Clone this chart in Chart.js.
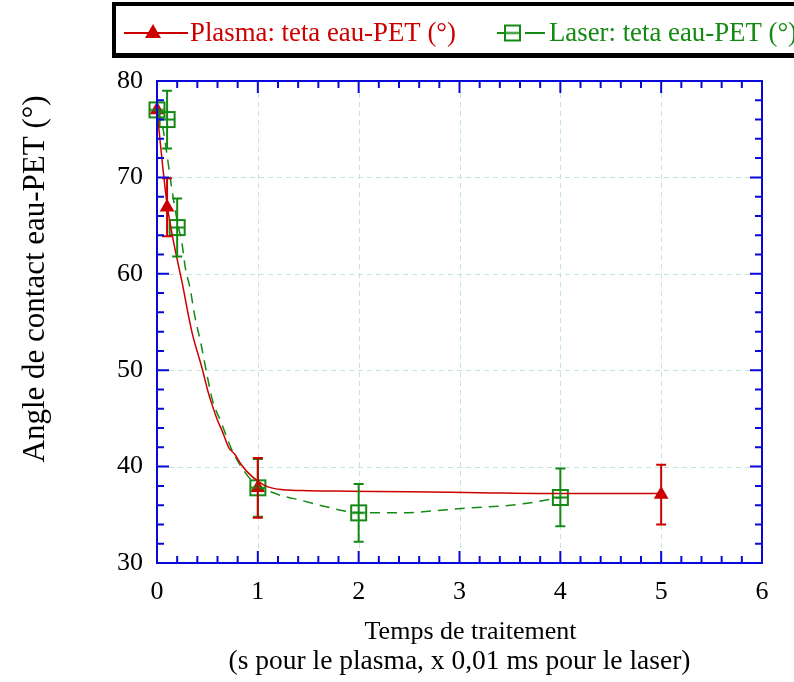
<!DOCTYPE html>
<html>
<head>
<meta charset="utf-8">
<script src="https://cdn.jsdelivr.net/npm/chart.js@4.4.1/dist/chart.umd.min.js"></script>
<style>
  html, body { margin: 0; padding: 0; background: #fff; }
  #chart { display: block; }
</style>
</head>
<body>
<canvas id="chart" width="794" height="682"></canvas>
<script>
// ---- data ----
const plasmaX   = [0, 0.1, 1, 5];
const plasmaY   = [77, 66.9, 37.8, 37.1];
const plasmaErr = [0, 3, 3.1, 3.1];

const laserX   = [0, 0.1, 0.2, 1, 2, 4];
const laserY   = [77, 76, 64.8, 37.8, 35.2, 36.8];
const laserErr = [0, 3, 3, 3, 3, 3];

// fitted curves (traced)
const plasmaFitX = [0, 0.05, 0.1, 0.15, 0.2, 0.255, 0.3, 0.35, 0.4, 0.45, 0.5, 0.55, 0.6, 0.65, 0.71, 0.77, 0.83, 0.9, 1, 1.1, 1.25, 1.5, 1.9, 2.5, 3.2, 4, 5];
const plasmaFitY = [77, 71.8, 67.2, 64.1, 61.5, 58.8, 56.3, 53.8, 51.9, 50.1, 48, 46.3, 44.8, 43.6, 42, 41.3, 40.3, 39.4, 38.5, 37.9, 37.6, 37.5, 37.45, 37.4, 37.3, 37.2, 37.2];

const laserFitX = [0, 0.03, 0.06, 0.1, 0.14, 0.2, 0.25, 0.28, 0.33, 0.375, 0.435, 0.485, 0.55, 0.64, 0.74, 0.88, 1, 1.1, 1.23, 1.43, 1.69, 1.92, 2.2, 2.42, 2.74, 3.08, 3.4, 3.6, 3.9, 4];
const laserFitY = [77, 76, 75, 72.3, 69.3, 65.5, 63, 60.7, 58.4, 55.6, 52.8, 50.1, 46.9, 44.5, 41.8, 39.3, 38, 37.5, 37, 36.5, 35.8, 35.3, 35.2, 35.2, 35.4, 35.7, 35.9, 36.1, 36.6, 36.8];

const xTicks = [0, 1, 2, 3, 4, 5, 6];
const yTicks = [30, 40, 50, 60, 70, 80];

const RED = '#cc0000';
const GREEN = '#138a13';
const BLUE = '#0808d8';
const GRID = '#bfe8db';
const SERIF = "'Liberation Serif', 'Times New Roman', serif";

// open square with a line across the middle (laser marker)
function squareMarker(side) {
    const c = document.createElement('canvas');
    c.width = side + 4; c.height = side + 4;
    const g = c.getContext('2d');
    g.strokeStyle = GREEN; g.lineWidth = 2;
    g.strokeRect(2, 2, side, side);
    g.beginPath();
    g.moveTo(2, 2 + side / 2); g.lineTo(2 + side, 2 + side / 2);
    g.stroke();
    return c;
}
const laserMarker = squareMarker(15);

const toXY = (xs, ys) => xs.map((v, i) => ({ x: v, y: ys[i] }));

// error bars from the dataset's err array
const errorBars = {
    id: 'errorBars',
    afterDatasetsDraw(chart) {
        const { ctx, scales: { x, y } } = chart;
        chart.data.datasets.forEach(ds => {
            if (!ds.err) return;
            ctx.save();
            ctx.strokeStyle = ds.borderColor;
            ctx.lineWidth = 2;
            ds.data.forEach((p, i) => {
                const e = ds.err[i];
                if (!e) return;
                const px = x.getPixelForValue(p.x);
                const top = y.getPixelForValue(p.y + e);
                const bot = y.getPixelForValue(p.y - e);
                ctx.beginPath();
                ctx.moveTo(px, top); ctx.lineTo(px, bot);
                ctx.moveTo(px - 5, top); ctx.lineTo(px + 5, top);
                ctx.moveTo(px - 5, bot); ctx.lineTo(px + 5, bot);
                ctx.stroke();
            });
            ctx.restore();
        });
    }
};

// grid, frame and inward ticks
const frame = {
    id: 'frame',
    beforeDatasetsDraw(chart) {
        const { ctx, chartArea: a, scales: { x, y } } = chart;
        ctx.save();
        ctx.strokeStyle = GRID;
        ctx.lineWidth = 1;
        ctx.setLineDash([5, 4]);
        xTicks.slice(1, -1).forEach(v => {
            const px = Math.round(x.getPixelForValue(v)) + 0.5;
            ctx.beginPath(); ctx.moveTo(px, a.top + 12); ctx.lineTo(px, a.bottom - 12); ctx.stroke();
        });
        yTicks.slice(1, -1).forEach(v => {
            const py = Math.round(y.getPixelForValue(v)) + 0.5;
            ctx.beginPath(); ctx.moveTo(a.left + 12, py); ctx.lineTo(a.right - 12, py); ctx.stroke();
        });
        ctx.restore();
    },
    afterDraw(chart) {
        const { ctx, chartArea: a, scales: { x, y } } = chart;
        ctx.save();
        ctx.strokeStyle = BLUE;
        ctx.lineWidth = 2;
        ctx.beginPath();
        for (let k = 0; k <= 30; k++) {
            const len = k % 5 === 0 ? 12 : 7;
            const px = x.getPixelForValue(k * 0.2);
            ctx.moveTo(px, a.bottom); ctx.lineTo(px, a.bottom - len);
            ctx.moveTo(px, a.top); ctx.lineTo(px, a.top + len);
        }
        for (let k = 0; k <= 25; k++) {
            const len = k % 5 === 0 ? 12 : 7;
            const py = y.getPixelForValue(30 + k * 2);
            ctx.moveTo(a.left, py); ctx.lineTo(a.left + len, py);
            ctx.moveTo(a.right, py); ctx.lineTo(a.right - len, py);
        }
        ctx.stroke();
        ctx.strokeRect(a.left, a.top, a.right - a.left, a.bottom - a.top);

        // axis titles
        ctx.fillStyle = '#000';
        ctx.font = '26px ' + SERIF;
        ctx.textAlign = 'center';
        ctx.textBaseline = 'middle';
        const cx = (a.left + a.right) / 2;
        ctx.fillText('Temps de traitement', cx + 11, 632);
        ctx.font = '27.5px ' + SERIF;
        ctx.fillText('(s pour le plasma, x 0,01 ms pour le laser)', cx, 662);
        ctx.font = '31px ' + SERIF;
        ctx.translate(36, 279);
        ctx.rotate(-Math.PI / 2);
        ctx.fillText('Angle de contact eau-PET (°)', 0, 0);
        ctx.restore();

        drawLegend(chart);
    }
};

// boxed legend across the top (runs off the right edge)
function drawLegend(chart) {
    const ctx = chart.ctx;
    const sets = chart.data.datasets;
    const plasma = sets.find(d => d.err && d.borderColor === RED);
    const laser = sets.find(d => d.err && d.borderColor === GREEN);
    ctx.save();
    // box with a small drop shadow
    ctx.fillStyle = '#000';
    ctx.fillRect(112, 2, 700, 56);
    ctx.fillStyle = '#fff';
    ctx.fillRect(116, 6, 700, 47);

    const cy = 33;
    // plasma sample
    ctx.strokeStyle = RED; ctx.lineWidth = 2;
    ctx.beginPath(); ctx.moveTo(124, cy); ctx.lineTo(188, cy); ctx.stroke();
    ctx.fillStyle = RED;
    ctx.beginPath();
    ctx.moveTo(153, cy - 9); ctx.lineTo(161, cy + 5); ctx.lineTo(145, cy + 5); ctx.closePath(); ctx.fill();
    // laser sample
    ctx.strokeStyle = GREEN;
    ctx.beginPath(); ctx.moveTo(497, cy); ctx.lineTo(505, cy); ctx.moveTo(525, cy); ctx.lineTo(545, cy); ctx.stroke();
    ctx.drawImage(laserMarker, 503, cy - 9.5);

    ctx.font = '26.8px ' + SERIF;
    ctx.textAlign = 'left';
    ctx.textBaseline = 'middle';
    ctx.fillStyle = RED;
    ctx.fillText(plasma.label, 190, cy + 1);
    ctx.fillStyle = GREEN;
    ctx.fillText(laser.label, 549, cy + 1);
    ctx.restore();
}

new Chart(document.getElementById('chart'), {
    type: 'scatter',
    data: {
        datasets: [
            {
                label: 'plasma fit',
                data: toXY(plasmaFitX, plasmaFitY),
                showLine: true,
                borderColor: RED,
                borderWidth: 1.5,
                pointRadius: 0,
                cubicInterpolationMode: 'monotone'
            },
            {
                label: 'laser fit',
                data: toXY(laserFitX, laserFitY),
                showLine: true,
                borderColor: GREEN,
                borderWidth: 1.5,
                borderDash: [10, 7],
                pointRadius: 0,
                cubicInterpolationMode: 'monotone'
            },
            {
                label: 'Laser: teta eau-PET (°)',
                data: toXY(laserX, laserY),
                err: laserErr,
                borderColor: GREEN,
                pointStyle: laserMarker,
                pointRadius: 9
            },
            {
                label: 'Plasma: teta eau-PET (°)',
                data: toXY(plasmaX, plasmaY),
                err: plasmaErr,
                borderColor: RED,
                backgroundColor: RED,
                pointStyle: 'triangle',
                pointRadius: 8.5,
                borderWidth: 0
            }
        ]
    },
    options: {
        responsive: false,
        animation: false,
        events: [],
        clip: false,
        layout: { padding: { top: 81, right: 32, left: 0, bottom: 0 } },
        plugins: { legend: { display: false }, tooltip: { enabled: false } },
        scales: {
            x: {
                type: 'linear', min: 0, max: 6,
                afterBuildTicks: s => { s.ticks = xTicks.map(v => ({ value: v })); },
                afterFit: s => { s.height = 119; },
                grid: { display: false, drawTicks: false },
                border: { display: false },
                ticks: { padding: 14, color: '#000', font: { family: SERIF, size: 26 }, maxRotation: 0 }
            },
            y: {
                type: 'linear', min: 30, max: 80,
                afterBuildTicks: s => { s.ticks = yTicks.map(v => ({ value: v })); },
                afterFit: s => { s.width = 157; },
                grid: { display: false, drawTicks: false },
                border: { display: false },
                ticks: { padding: 14, color: '#000', font: { family: SERIF, size: 26 } }
            }
        }
    },
    plugins: [frame, errorBars]
});
</script>
</body>
</html>
